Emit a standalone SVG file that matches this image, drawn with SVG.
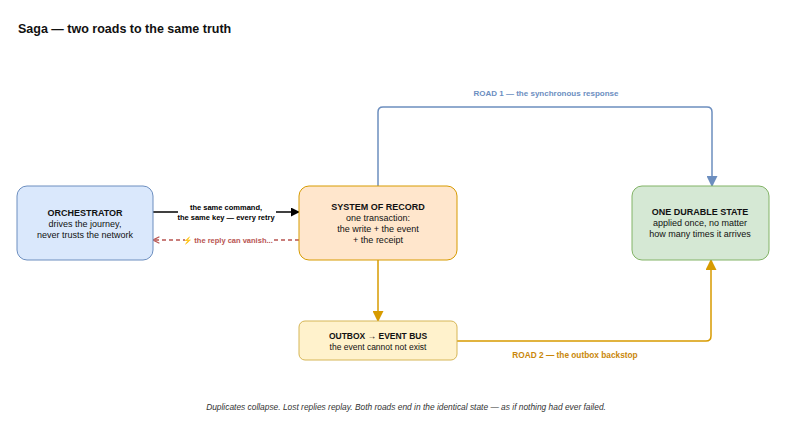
<svg xmlns="http://www.w3.org/2000/svg" width="800" height="427" viewBox="0 0 800 427">
<style>
text{font-family:"Liberation Sans",Arial,sans-serif;}
.t{font-size:9px;fill:#111;text-anchor:middle}
.b{font-weight:bold}
.lbl{font-size:7.5px;font-weight:bold;text-anchor:middle}
</style>
<defs>
<marker id="ab" viewBox="0 0 10 10" refX="9" refY="5" markerWidth="9" markerHeight="9" orient="auto" markerUnits="userSpaceOnUse"><path d="M0,0L10,5L0,10z" fill="#000"/></marker>
<marker id="abl" viewBox="0 0 10 10" refX="9" refY="5" markerWidth="11" markerHeight="11" orient="auto" markerUnits="userSpaceOnUse"><path d="M0,0L10,5L0,10z" fill="#6c8ebf"/></marker>
<marker id="aor" viewBox="0 0 10 10" refX="9" refY="5" markerWidth="11" markerHeight="11" orient="auto" markerUnits="userSpaceOnUse"><path d="M0,0L10,5L0,10z" fill="#d79b00"/></marker>
<marker id="ared" viewBox="0 0 10 10" refX="9" refY="5" markerWidth="8" markerHeight="8" orient="auto" markerUnits="userSpaceOnUse"><path d="M1,1L9,5L1,9" fill="none" stroke="#b85450" stroke-width="1.5"/></marker>
</defs>
<rect width="800" height="427" fill="#fff"/>
<text x="18" y="33" style="font-size:12.5px;font-weight:bold" fill="#111">Saga — two roads to the same truth</text>
<g id="connectors" fill="none" stroke-width="1.5">
<path d="M153,212H299" stroke="#000" marker-end="url(#ab)"/>
<path d="M299,240H153" stroke="#b85450" stroke-dasharray="4,3" marker-end="url(#ared)"/>
<path d="M378,186V112Q378,107 383,107H707Q712,107 712,112V186" stroke="#6c8ebf" marker-end="url(#abl)"/>
<path d="M378,260V321" stroke="#d79b00" marker-end="url(#aor)"/>
<path d="M457,341H706Q711,341 711,336V260" stroke="#d79b00" marker-end="url(#aor)"/>
<rect x="178" y="201" width="98" height="21" fill="#fff" stroke="none"/>
<rect x="185" y="235" width="87" height="10" fill="#fff" stroke="none"/>
<text class="lbl" x="226" y="210" fill="#000">the same command,</text>
<text class="lbl" x="226" y="220" fill="#000">the same key — every retry</text>
<text class="lbl" x="228" y="243" fill="#b85450"><tspan fill="#e8c547">⚡</tspan> the reply can vanish...</text>
<text class="lbl" x="546" y="96" style="font-size:8px" fill="#6c8ebf">ROAD 1 — the synchronous response</text>
<text class="lbl" x="575" y="358" style="font-size:8.3px" fill="#c9870a">ROAD 2 — the outbox backstop</text>
</g>
<g id="orchestrator">
<rect x="17" y="186" width="136" height="74" rx="10" fill="#dae8fc" stroke="#6c8ebf"/>
<text class="t b" x="85" y="216">ORCHESTRATOR</text>
<text class="t" x="85" y="227">drives the journey,</text>
<text class="t" x="85" y="238">never trusts the network</text>
</g>
<g id="system-of-record">
<rect x="299" y="186" width="158" height="74" rx="10" fill="#ffe6cc" stroke="#d79b00"/>
<text class="t b" x="378" y="210">SYSTEM OF RECORD</text>
<text class="t" x="378" y="221">one transaction:</text>
<text class="t" x="378" y="232">the write + the event</text>
<text class="t" x="378" y="243">+ the receipt</text>
</g>
<g id="durable-state">
<rect x="632" y="186" width="137" height="74" rx="10" fill="#d5e8d4" stroke="#82b366"/>
<text class="t b" x="700" y="215">ONE DURABLE STATE</text>
<text class="t" x="700" y="226">applied once, no matter</text>
<text class="t" x="700" y="237">how many times it arrives</text>
</g>
<g id="outbox">
<rect x="299" y="321" width="158" height="39" rx="6" fill="#fff2cc" stroke="#d6b656"/>
<text class="t b" x="378" y="339" style="font-size:8.5px">OUTBOX → EVENT BUS</text>
<text class="t" x="378" y="350" style="font-size:8.5px">the event cannot not exist</text>
</g>
<text x="406" y="410" style="font-size:8.4px;font-style:italic;text-anchor:middle" fill="#333">Duplicates collapse. Lost replies replay. Both roads end in the identical state — as if nothing had ever failed.</text>
</svg>
